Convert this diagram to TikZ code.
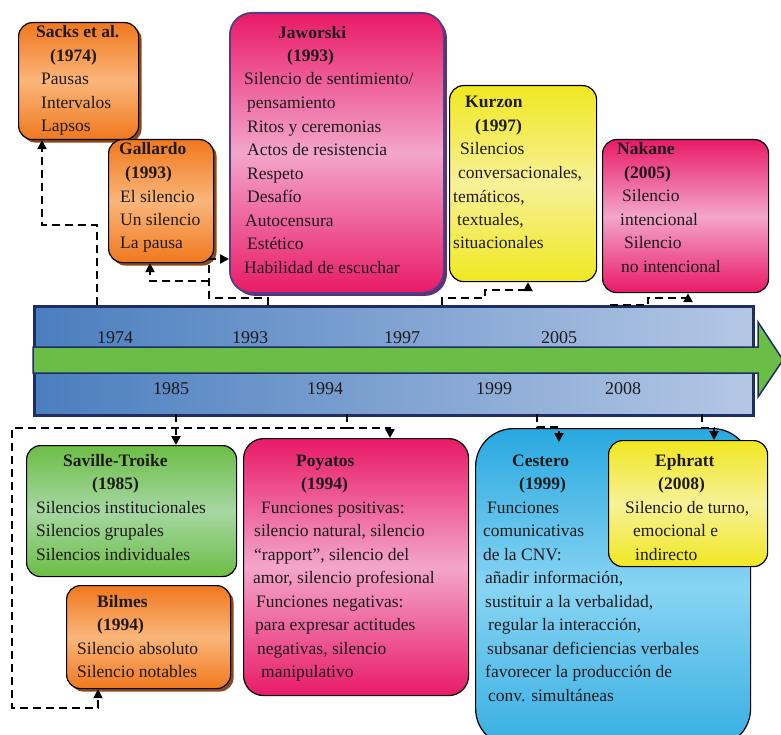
\documentclass[tikz,border=0pt]{standalone}
\usepackage{fontspec}
\setmainfont{Liberation Serif}
\usetikzlibrary{arrows.meta,shadows,calc}
\definecolor{orD}{RGB}{240,120,30}
\definecolor{orL}{RGB}{250,182,122}
\definecolor{mgD}{RGB}{233,26,104}
\definecolor{mgL}{RGB}{243,166,202}
\definecolor{ylD}{RGB}{240,232,32}
\definecolor{ylL}{RGB}{247,241,152}
\definecolor{grD}{RGB}{108,190,70}
\definecolor{grL}{RGB}{166,215,162}
\definecolor{blD}{RGB}{40,168,224}
\definecolor{blL}{RGB}{136,212,243}
\definecolor{tlL}{RGB}{74,126,190}
\definecolor{tlR}{RGB}{180,199,229}
\definecolor{navy}{RGB}{30,45,100}
\definecolor{arrG}{RGB}{106,189,69}
\definecolor{shBrown}{RGB}{140,72,24}
\definecolor{shPurple}{RGB}{90,50,110}
\definecolor{jawLine}{RGB}{80,62,140}
\definecolor{ink}{RGB}{30,26,27}
\tikzset{bx/.style={draw=black, line width=1.2pt, rounded corners=14pt, anchor=north west, inner sep=0pt},
  orbox/.style={bx, top color=orD, bottom color=orD, middle color=orL,
    drop shadow={shadow xshift=3pt, shadow yshift=-3pt, fill=shBrown, opacity=1}},
  mgbox/.style={bx, top color=mgD, bottom color=mgD, middle color=mgL},
  ylbox/.style={bx, top color=ylD, bottom color=ylD, middle color=ylL},
  grbox/.style={bx, top color=grD, bottom color=grD, middle color=grL},
  blbox/.style={bx, top color=blD, bottom color=blD!85!blL, middle color=blL},
  txt/.style={anchor=base west, align=left, inner sep=0pt, text=ink,
    font=\fontsize{17.5}{23.5}\selectfont},
  yr/.style={text=ink, inner sep=0pt, font=\fontsize{18}{20}\selectfont},
  lk/.style={draw, line width=2.6pt, dash pattern=on 8pt off 5pt, ->}}

\begin{document}
\begin{tikzpicture}[x=1pt, y=-1pt, >={Stealth[length=9pt,width=9pt,inset=0pt]}]
\useasboundingbox (0,0) rectangle (781,735);
% timeline
\node[draw=navy, line width=2.5pt, left color=tlL, right color=tlR, anchor=north west,
  inner sep=0pt, minimum width=719pt, minimum height=109pt] (tl) at (33,305) {};
\draw[draw=navy, line width=1.5pt, fill=arrG] (33,347) -- (758,347) -- (758,322) -- (783,360)
  -- (758,397) -- (758,373) -- (33,373) -- cycle;
\node[yr] (y74) at (115,338) {1974};
\node[yr] (y93) at (250,338) {1993};
\node[yr] (y97) at (402,338) {1997};
\node[yr] (y05) at (559,338) {2005};
\node[yr] (y85) at (171,389) {1985};
\node[yr] (y94) at (325,389) {1994};
\node[yr] (y99) at (494,389) {1999};
\node[yr] (y08) at (623,389) {2008};

% boxes above
\node[orbox, minimum width=120pt, minimum height=117pt] (sacks) at (18,22) {};
\node[orbox, minimum width=105pt, minimum height=123pt] (gall) at (108,139) {};
\node[mgbox, draw=jawLine, line width=1.8pt, rounded corners=22pt, minimum width=214pt, minimum height=280pt,
  drop shadow={shadow xshift=3pt, shadow yshift=-3pt, fill=shPurple, opacity=1}] (jaw) at (229,12) {};
\node[ylbox, minimum width=147pt, minimum height=196pt] (kurz) at (449,85) {};
\node[mgbox, minimum width=166pt, minimum height=153pt] (nak) at (602,139) {};

% boxes below
\node[grbox, minimum width=210pt, minimum height=131pt] (savi) at (26,445) {};
\node[orbox, minimum width=164pt, minimum height=103pt] (bilm) at (66,585) {};
\node[mgbox, rounded corners=20pt, minimum width=225pt, minimum height=257pt] (poya) at (243,438) {};
\node[blbox, rounded corners=38pt, minimum width=275pt, minimum height=318pt] (cest) at (475,428) {};
\node[ylbox, minimum width=159pt, minimum height=126pt] (ephr) at (608,440) {};

% texts (base = last line)
\node[txt] (sacks-t) at (36,132) {\textbf{Sacks et al.}\\\hspace*{14pt}\textbf{(1974)}\\
  \hspace*{5pt}Pausas\\\hspace*{5pt}Intervalos\\\hspace*{5pt}Lapsos};
\node[txt] (gall-t) at (119,249) {\textbf{Gallardo}\\\hspace*{6pt}\textbf{(1993)}\\
  \hspace*{1pt}El silencio\\\hspace*{1pt}Un silencio\\\hspace*{1pt}La pausa};
\node[txt] (jaw-t) at (244,273) {\hspace*{34pt}\textbf{Jaworski}\\\hspace*{43pt}\textbf{(1993)}\\
  Silencio de sentimiento/\\\hspace*{3pt}pensamiento\\\hspace*{3pt}Ritos y ceremonias\\
  \hspace*{3pt}Actos de resistencia\\\hspace*{3pt}Respeto\\\hspace*{3pt}Desafío\\
  \hspace*{1pt}Autocensura\\\hspace*{3pt}Estético\\Habilidad de escuchar};
\node[txt] (kurz-t) at (453,249) {\hspace*{12pt}\textbf{Kurzon}\\\hspace*{22pt}\textbf{(1997)}\\
  \hspace*{7pt}Silencios\\\hspace*{5pt}conversacionales,\\temáticos,\\\hspace*{4pt}textuales,\\situacionales};
\node[txt] (nak-t) at (617,272.5) {\textbf{Nakane}\\\hspace*{7pt}\textbf{(2005)}\\
  \hspace*{5pt}Silencio\\\hspace*{3pt}intencional\\\hspace*{7pt}Silencio\\\hspace*{4pt}no intencional};
\node[txt] (savi-t) at (36,560) {\hspace*{27pt}\textbf{Saville-Troike}\\\hspace*{56pt}\textbf{(1985)}\\
  Silencios institucionales\\Silencios grupales\\Silencios individuales};
\node[txt] (bilm-t) at (77,677.5) {\hspace*{20pt}\textbf{Bilmes}\\\hspace*{20pt}\textbf{(1994)}\\
  Silencio absoluto\\Silencio notables};
\node[txt] (poya-t) at (253,677.5) {\hspace*{43pt}\textbf{Poyatos}\\\hspace*{48pt}\textbf{(1994)}\\
  \hspace*{8pt}Funciones positivas:\\\hspace*{1pt}silencio natural, silencio\\
  \hspace*{1pt}“rapport”, silencio del\\amor, silencio profesional\\
  \hspace*{3pt}Funciones negativas:\\\hspace*{2pt}para expresar actitudes\\
  \hspace*{4pt}negativas, silencio\\\hspace*{8pt}manipulativo};
\node[txt] (cest-t) at (483,701) {\hspace*{29pt}\textbf{Cestero}\\\hspace*{36pt}\textbf{(1999)}\\
  \hspace*{4pt}Funciones\\comunicativas\\de la CNV:\\\hspace*{2pt}añadir información,\\
  \hspace*{2pt}sustituir a la verbalidad,\\\hspace*{5pt}regular la interacción,\\
  \hspace*{4pt}subsanar deficiencias verbales\\\hspace*{2pt}favorecer la producción de\\
  \hspace*{5pt}conv. simultáneas};
\node[txt] (ephr-t) at (625,560) {\hspace*{30pt}\textbf{Ephratt}\\\hspace*{33pt}\textbf{(2008)}\\
  Silencio de turno,\\\hspace*{8pt}emocional e\\\hspace*{10pt}indirecto};

% connectors
\coordinate (c74) at (97,305);
\coordinate (c93) at (268,305);
\coordinate (j93) at (209,281);
\coordinate (c97) at (442,305);
\coordinate (c05) at (610,305);
\coordinate (c85) at (176,414);
\coordinate (c94) at (347,414);
\coordinate (c99) at (537,414);
\coordinate (c08) at (702,414);
\draw[lk] (c74) -- ++(0,-80) -| ([xshift=24pt]sacks.south west);
\draw[lk] (c93) |- (209,298) |- (jaw.west |- 0,259);
\draw[lk] (j93) -| ([xshift=42pt]gall.south west);
\draw[lk] (c97) |- (485,298) |- (528,290) -- (kurz.south -| 528,0);
\draw[lk] (c05) -- (648,305) |- (688,298) -- (nak.south -| 688,0);
\draw[lk] (c85) -- (savi.north -| 176,0);
\draw[lk] (c94) |- (390,428) -- (poya.north -| 390,0);
\draw[lk] (c94) |- (12,428) |- (98,708) -- (bilm.south -| 98,0);
\draw[lk] (c99) |- (559,427) -- ([yshift=-14pt]cest.north -| 559,0);
\draw[lk] (c08) |- (714,428) -- (ephr.north -| 714,0);
\end{tikzpicture}
\end{document}
